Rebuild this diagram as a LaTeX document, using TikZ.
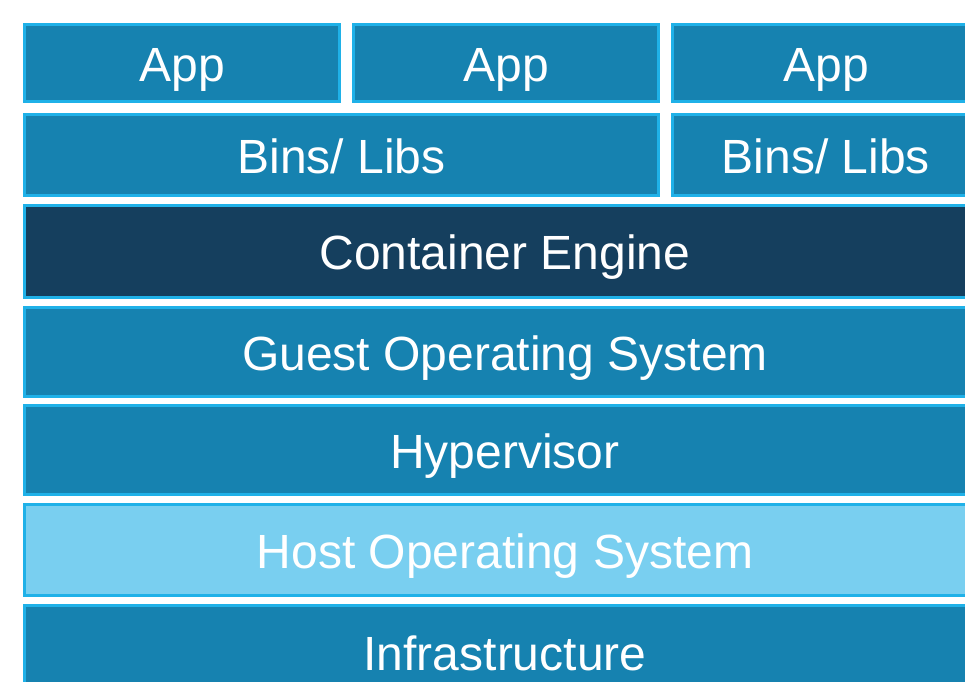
\documentclass[tikz,border=0pt]{standalone}
\usepackage{fontspec}
\setmainfont{Liberation Sans}
\definecolor{midblue}{HTML}{1682B0}
\definecolor{edgeblue}{HTML}{1FB1E8}
\definecolor{darkblue}{HTML}{153F5E}
\definecolor{lightblue}{HTML}{79CFF0}
\begin{document}
\begin{tikzpicture}[x=1pt,y=-1pt,
  layer/.style={rectangle, draw=edgeblue, line width=3pt, fill=midblue, text=white,
    inner sep=0pt, outer sep=0pt, text height=36pt, text depth=0pt,
    font=\fontsize{48}{56}\selectfont},
  darklayer/.style={layer, fill=darkblue},
  lightlayer/.style={layer, fill=lightblue}]
\useasboundingbox (0,0) rectangle (965,681);
\clip (0,0) rectangle (965,681);
\fill[white] (0,0) rectangle (965,681);
% App row
\node[layer, minimum width=315pt, minimum height=77pt] (app1) at (182,63) {App};
\node[layer, minimum width=305pt, minimum height=77pt] (app2) at (506,63) {App};
\node[layer, minimum width=307pt, minimum height=77pt] (app3) at (826,63) {App};
% Bins row
\node[layer, minimum width=634pt, minimum height=81pt] (bins1) at (341.5,155) {Bins/ Libs};
\node[layer, minimum width=307pt, minimum height=81pt] (bins2) at (826,155) {Bins/ Libs};
% Wide layers
\node[darklayer, minimum width=961pt, minimum height=92pt] (engine) at (505,251.5) {Container Engine};
\node[layer, minimum width=961pt, minimum height=89pt] (guest) at (505,352) {Guest Operating System};
\node[layer, minimum width=961pt, minimum height=89pt] (hyper) at (505,450) {Hypervisor};
\node[lightlayer, minimum width=961pt, minimum height=91pt] (host) at (505,550) {Host Operating System};
\node[layer, minimum width=961pt, minimum height=93pt] (infra) at (505,652) {Infrastructure};
\end{tikzpicture}
\end{document}
